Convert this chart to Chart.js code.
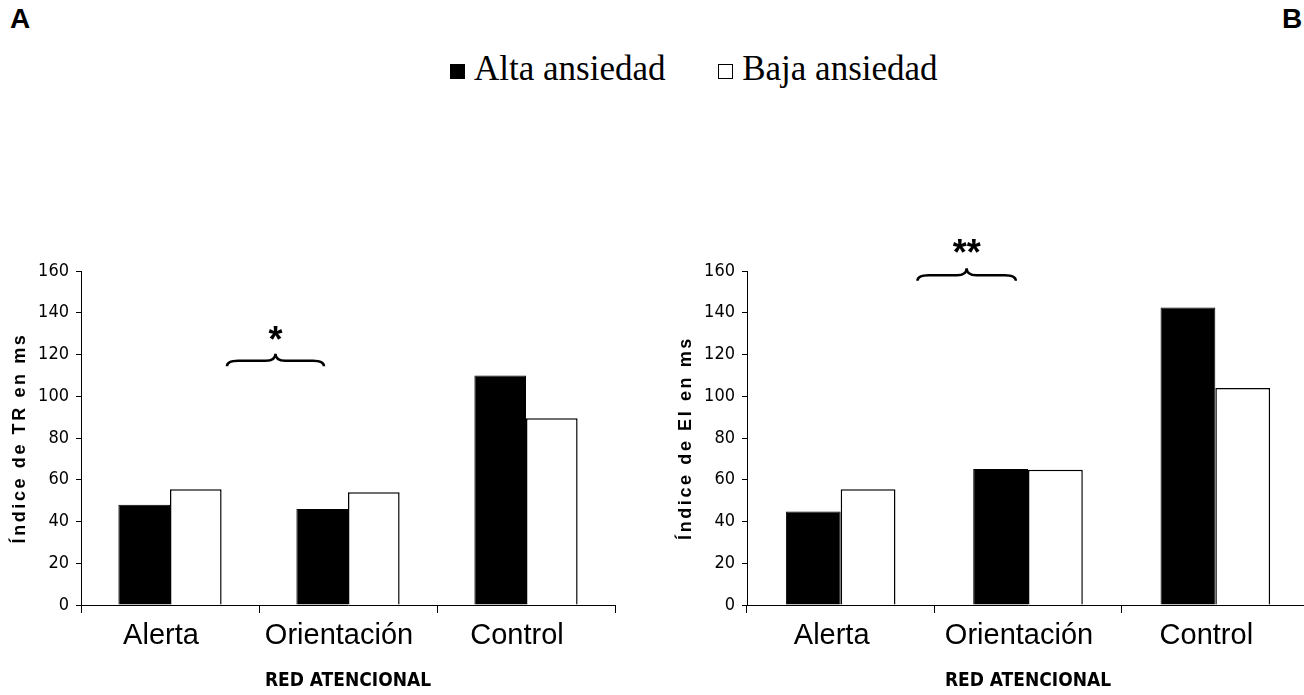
<!DOCTYPE html>
<html>
<head>
<meta charset="utf-8">
<script src="https://cdn.jsdelivr.net/npm/chart.js@4.4.1/dist/chart.umd.min.js"></script>
<style>
    html, body { margin: 0; padding: 0; background: #fff; overflow: hidden; }
    #page { position: relative; width: 1304px; height: 695px; overflow: hidden; }
    .letter { position: absolute; top: 3px; font: bold 28px 'Liberation Sans', Arial, sans-serif; color: #000; }
    #legend { position: absolute; top: 49px; left: 450px; white-space: nowrap;
              font: 35px 'Liberation Serif', 'Times New Roman', serif; color: #000; }
    #legend .item { display: inline-block; }
    #legend .item + .item { margin-left: 44px; }
    #legend .box { display: inline-block; width: 15px; height: 15px; margin-right: 9px; vertical-align: 1px; box-sizing: border-box; }
    canvas { position: absolute; top: 230px; }
</style>
</head>
<body>
<div id="page">
    <div class="letter" style="left:10px">A</div>
    <div class="letter" style="left:1282px">B</div>
    <div id="legend">
        <span class="item"><span class="box" style="background:#000"></span>Alta ansiedad</span>
        <span class="item"><span class="box" style="background:#fff;border:1px solid #000"></span>Baja ansiedad</span>
    </div>
    <canvas id="chartTR" width="650" height="465" style="left:0px"></canvas>
    <canvas id="chartEI" width="658" height="465" style="left:652px"></canvas>
</div>
<script>
const categories = ['Alerta', 'Orientación', 'Control'];
const seriesNames = ['Alta ansiedad', 'Baja ansiedad'];

// panel A: índice de TR (ms)
const trAlta = [48, 46, 110];
const trBaja = [55.5, 54, 89.5];

// panel B: índice de EI (ms)
const eiAlta = [44.8, 65.1, 142.5];
const eiBaja = [55.5, 64.8, 104];

const yTicks = [0, 20, 40, 60, 80, 100, 120, 140, 160];

const narrow = "'Liberation Sans Narrow', 'DejaVu Sans Condensed', Arial, sans-serif";
const sans = "'Liberation Sans', Arial, sans-serif";

// significance brace drawn above the bars, y title with wide letter spacing
const notesPlugin = {
    id: 'notes',
    afterDraw(chart, args, o) {
        const { ctx, chartArea, scales: { x, y } } = chart;
        ctx.save();
        ctx.fillStyle = '#000';
        ctx.font = 'bold 18px ' + sans;
        ctx.letterSpacing = '2.6px';
        ctx.translate(o.titleX, (chartArea.top + chartArea.bottom) / 2);
        ctx.rotate(-Math.PI / 2);
        ctx.textAlign = 'center';
        ctx.textBaseline = 'middle';
        ctx.fillText(o.title, 0, 0);
        ctx.restore();

        const b = o.brace;
        const x0 = x.getPixelForValue(b.from);
        const x1 = x.getPixelForValue(b.to);
        const xm = (x0 + x1) / 2;
        const yb = y.getPixelForValue(b.value);
        const h = 7;
        ctx.save();
        ctx.strokeStyle = '#000';
        ctx.lineWidth = 2.5;
        ctx.beginPath();
        ctx.moveTo(x0, yb + h * 0.8);
        ctx.quadraticCurveTo(x0, yb, x0 + h * 1.6, yb);
        ctx.lineTo(xm - h * 1.4, yb);
        ctx.quadraticCurveTo(xm, yb, xm, yb - h);
        ctx.quadraticCurveTo(xm, yb, xm + h * 1.4, yb);
        ctx.lineTo(x1 - h * 1.6, yb);
        ctx.quadraticCurveTo(x1, yb, x1, yb + h * 0.8);
        ctx.stroke();
        ctx.fillStyle = '#000';
        ctx.font = 'bold 36px ' + sans;
        ctx.textAlign = 'center';
        ctx.textBaseline = 'middle';
        ctx.fillText(b.mark, xm, y.getPixelForValue(b.markValue) + 8);
        ctx.restore();
    }
};

function makeChart(id, alta, baja, cfg) {
    return new Chart(document.getElementById(id), {
        type: 'bar',
        data: {
            labels: categories,
            datasets: [
                {
                    label: seriesNames[0],
                    data: alta,
                    backgroundColor: '#000',
                    borderColor: '#000',
                    borderWidth: 1,
                },
                {
                    label: seriesNames[1],
                    data: baja,
                    backgroundColor: '#fff',
                    borderColor: '#000',
                    borderWidth: 1.5,
                },
            ],
        },
        options: {
            responsive: false,
            animation: false,
            devicePixelRatio: 1,
            categoryPercentage: cfg.catPct,
            barPercentage: 1,
            layout: { padding: { top: 41, right: cfg.padRight, left: 0, bottom: 0 } },
            plugins: {
                legend: { display: false },
                tooltip: { enabled: false },
                notes: { title: cfg.title, titleX: cfg.titleX, brace: cfg.brace },
            },
            scales: {
                x: {
                    grid: { drawOnChartArea: false, color: '#000', tickLength: 8, offset: true },
                    border: { color: '#000', width: 1 },
                    ticks: { color: '#000', font: { family: sans, size: 29 }, padding: 6, labelOffset: -9 },
                    title: {
                        display: true,
                        text: 'RED ATENCIONAL',
                        color: '#000',
                        font: { family: narrow, size: 19, weight: 'bold' },
                        padding: { top: 0, bottom: 3 },
                    },
                    afterFit: (scale) => { scale.height = 90; },
                },
                y: {
                    min: 0,
                    max: 160,
                    afterBuildTicks: (scale) => { scale.ticks = yTicks.map((v) => ({ value: v })); },
                    grid: { drawOnChartArea: false, color: '#000', tickLength: 5 },
                    border: { color: '#000', width: 1 },
                    ticks: { color: '#000', font: { family: narrow, size: 18 }, padding: 7 },
                    afterFit: (scale) => { scale.width = cfg.yWidth; },
                },
            },
        },
        plugins: [notesPlugin],
    });
}

makeChart('chartTR', trAlta, trBaja, {
    catPct: 0.58,
    padRight: 35,
    yWidth: 81,
    titleX: 20,
    title: 'Índice de TR en ms',
    brace: { from: 0.32, to: 0.865, value: 117, mark: '*', markValue: 130 },
});

makeChart('chartEI', eiAlta, eiBaja, {
    catPct: 0.585,
    padRight: 1,
    yWidth: 95,
    titleX: 34,
    title: 'Índice de EI en ms',
    brace: { from: 0.41, to: 0.935, value: 158, mark: '**', markValue: 171.5 },
});
</script>
</body>
</html>
